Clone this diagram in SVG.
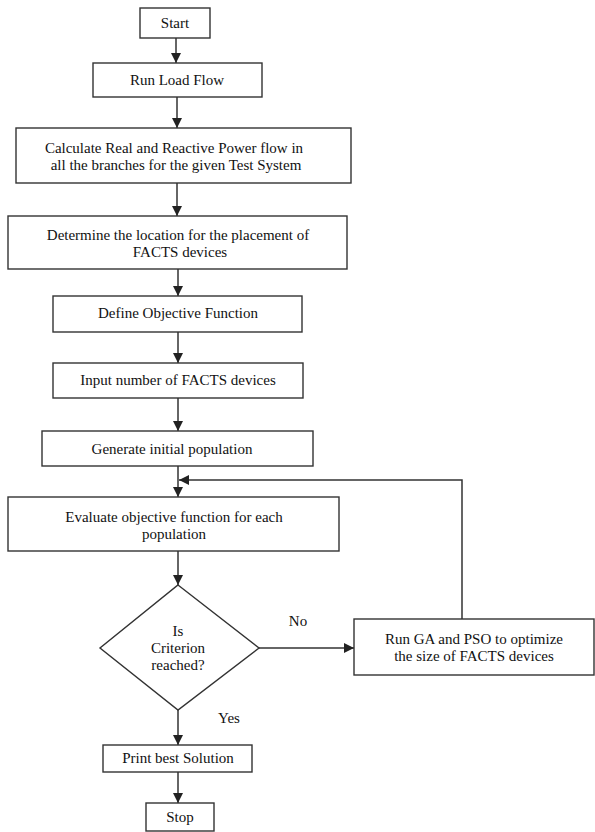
<svg xmlns="http://www.w3.org/2000/svg" width="595" height="832" viewBox="0 0 595 832">
<style>
  .box{fill:#fff;stroke:#333;stroke-width:1.4}
  .t{font-family:"Liberation Serif","Times New Roman",serif;font-size:15px;fill:#111;text-anchor:middle}
  .c{fill:none;stroke:#333;stroke-width:1.5}
</style>
<defs>
  <marker id="ah" viewBox="0 0 10 10" refX="10" refY="5" markerWidth="10" markerHeight="10" markerUnits="userSpaceOnUse" orient="auto">
    <path d="M0,0 L10,5 L0,10 Z" fill="#222"/>
  </marker>
</defs>
<rect width="595" height="832" fill="#fff"/>
<g id="connectors">
  <path class="c" d="M176,38 V63" marker-end="url(#ah)"/>
  <path class="c" d="M177,97 V128" marker-end="url(#ah)"/>
  <path class="c" d="M177,183 V216" marker-end="url(#ah)"/>
  <path class="c" d="M178,269 V296" marker-end="url(#ah)"/>
  <path class="c" d="M178,332 V363" marker-end="url(#ah)"/>
  <path class="c" d="M178,398 V431" marker-end="url(#ah)"/>
  <path class="c" d="M178,466 V497" marker-end="url(#ah)"/>
  <path class="c" d="M178,551 V585" marker-end="url(#ah)"/>
  <path class="c" d="M259,648 H354" marker-end="url(#ah)"/>
  <path class="c" d="M462,619 V480 H179" marker-end="url(#ah)"/>
  <path class="c" d="M178,710 V745" marker-end="url(#ah)"/>
  <path class="c" d="M178,772 V803" marker-end="url(#ah)"/>
  <text class="t" x="298" y="626">No</text>
  <text class="t" x="229" y="723">Yes</text>
</g>
<g id="start">
  <rect class="box" x="140" y="8" width="70" height="30"/>
  <text class="t" x="175" y="28">Start</text>
</g>
<g id="loadflow">
  <rect class="box" x="93" y="63" width="169" height="34"/>
  <text class="t" x="177" y="85">Run Load Flow</text>
</g>
<g id="calculate">
  <rect class="box" x="16" y="128" width="335" height="55"/>
  <text class="t" x="174" y="153">Calculate Real and Reactive Power flow in</text>
  <text class="t" x="176" y="170">all the branches for the given Test System</text>
</g>
<g id="determine">
  <rect class="box" x="8" y="216" width="339" height="53"/>
  <text class="t" x="178" y="240">Determine the location for the placement of</text>
  <text class="t" x="180" y="257">FACTS devices</text>
</g>
<g id="define">
  <rect class="box" x="53" y="296" width="249" height="36"/>
  <text class="t" x="178" y="318">Define Objective Function</text>
</g>
<g id="input">
  <rect class="box" x="53" y="363" width="250" height="35"/>
  <text class="t" x="178" y="385">Input number of FACTS devices</text>
</g>
<g id="generate">
  <rect class="box" x="42" y="431" width="271" height="35"/>
  <text class="t" x="172" y="454">Generate initial population</text>
</g>
<g id="evaluate">
  <rect class="box" x="8" y="497" width="331" height="54"/>
  <text class="t" x="174" y="522">Evaluate objective function for each</text>
  <text class="t" x="174" y="539">population</text>
</g>
<g id="criterion">
  <polygon class="box" points="178,585 259,648 178,710 100,648"/>
  <text class="t" x="178" y="636">Is</text>
  <text class="t" x="178" y="653">Criterion</text>
  <text class="t" x="178" y="670">reached?</text>
</g>
<g id="rungapso">
  <rect class="box" x="354" y="619" width="240" height="56"/>
  <text class="t" x="474" y="644">Run GA and PSO to optimize</text>
  <text class="t" x="474" y="661">the size of FACTS devices</text>
</g>
<g id="print">
  <rect class="box" x="103" y="745" width="149" height="27"/>
  <text class="t" x="178" y="763">Print best Solution</text>
</g>
<g id="stop">
  <rect class="box" x="146" y="803" width="68" height="28"/>
  <text class="t" x="180" y="822">Stop</text>
</g>
</svg>
